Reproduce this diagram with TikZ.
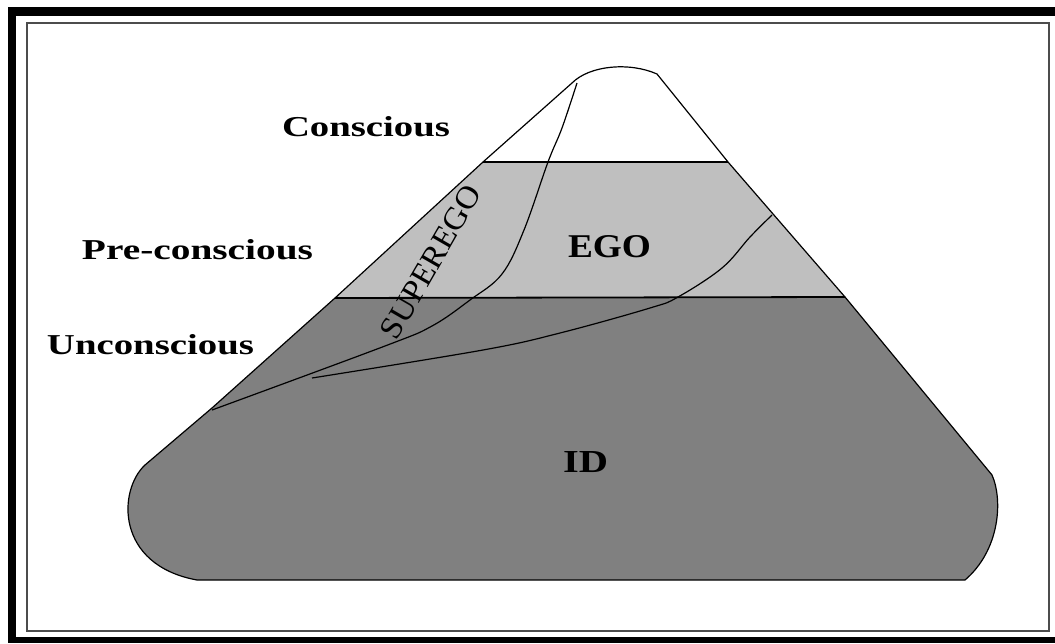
\documentclass[tikz,border=0pt]{standalone}
\usepackage{fontspec}
\setmainfont{Liberation Serif}
\usepackage{graphicx}
\begin{document}
\begin{tikzpicture}[x=1pt,y=-1pt,
  outline/.style={draw=black,line width=1.2pt},
  level/.style={draw=black,line width=1.8pt},
  mind/.style={draw=black,line width=1.2pt},
  lbl/.style={inner sep=0pt,anchor=center}]
\useasboundingbox (0,0) rectangle (1055,643);
% frame
\fill[black] (8,7) rectangle (1055,16);
\fill[black] (8,7) rectangle (16,643);
\fill[black] (8,637) rectangle (1055,643);
\draw[black!70,line width=2pt] (27,23) rectangle (1049,631);
% outline path
\def\outlinepath{(572,83) -- (483,162) -- (335,298) -- (212,408) -- (145,465)
  .. controls (118,490) and (115,565) .. (197,580) -- (965,580)
  .. controls (1000,550) and (1003,500) .. (992,475) -- (845,297) -- (728,162) -- (657,74)
  .. controls (630,62) and (590,65) .. (572,83) -- cycle}
\begin{scope}
  \clip \outlinepath;
  \fill[black!25] (100,162) rectangle (1040,298);
  \fill[black!50] (100,298) rectangle (1040,600);
\end{scope}
\draw[outline] \outlinepath;
\coordinate (c1l) at (483,162); \coordinate (c1r) at (728,162);
\coordinate (c2l) at (335,298); \coordinate (c2r) at (845,297);
\draw[level] (c1l) -- (c1r);
\draw[level] (c2l) -- (c2r);
% superego curve
\draw[mind] plot[smooth,tension=0.6] coordinates {(577,83) (562,128) (548,162) (524,230) (502,274) (470,300) (432,326) (385,346) (212,410)};
% ego curve
\draw[mind] plot[smooth,tension=0.6] coordinates {(772,215) (750,237) (722,268) (678,297) (650,308) (560,333) (483,350) (312,378)};
% labels
\node[lbl] (cons) at (366,127) {\resizebox{168pt}{20pt}{\bfseries Conscious}};
\node[lbl] (pre) at (197.5,250) {\resizebox{231pt}{20pt}{\bfseries Pre-conscious}};
\node[lbl] (uncons) at (150.5,345) {\resizebox{207pt}{20pt}{\bfseries Unconscious}};
\node[lbl] (ego) at (609.5,247) {\resizebox{83pt}{22pt}{\bfseries EGO}};
\node[lbl] (id) at (585.5,462.5) {\resizebox{45pt}{21pt}{\bfseries ID}};
\node[lbl,rotate=60] (superego) at (431,262) {\resizebox{172pt}{21pt}{SUPEREGO}};
\end{tikzpicture}
\end{document}
